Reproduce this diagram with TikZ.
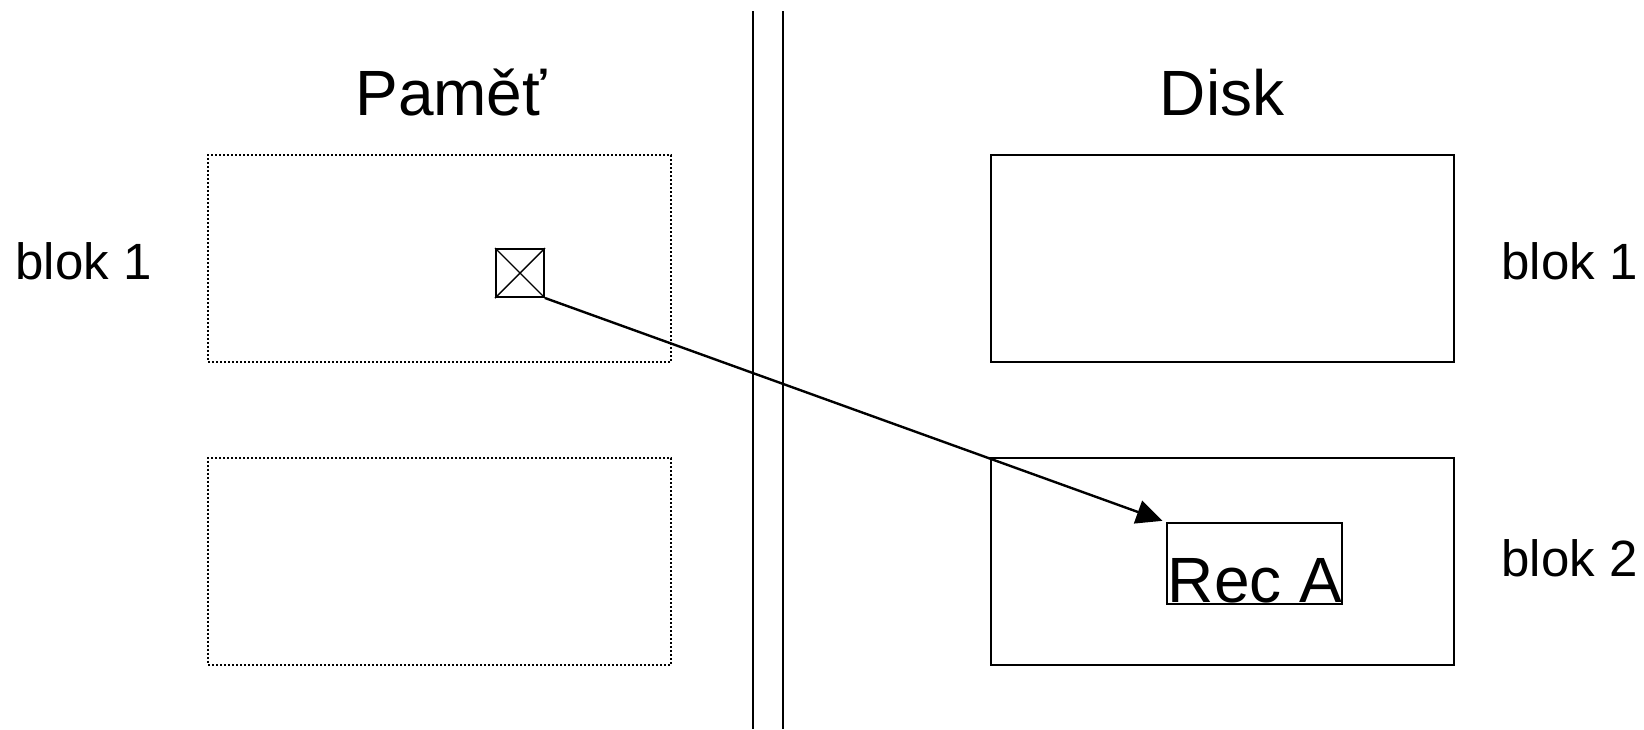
\documentclass[tikz,border=0pt]{standalone}
\usepackage{fontspec}
\setmainfont{Liberation Sans}
\usetikzlibrary{arrows.meta}
\begin{document}
\begin{tikzpicture}[x=0.5pt,y=-0.5pt,
  memblock/.style={draw, line width=1pt, dash pattern=on 1pt off 1pt, minimum width=231.5pt, minimum height=103.5pt, inner sep=0pt},
  diskblock/.style={draw, line width=1pt, minimum width=231.5pt, minimum height=103.5pt, inner sep=0pt},
  title/.style={anchor=base, inner sep=0pt, font=\fontsize{32}{38}\selectfont},
  lbl/.style={inner sep=0pt, font=\fontsize{25.5}{30}\selectfont},
  sep/.style={line width=0.9pt},
  ptr/.style={line width=1.2pt, -{Triangle[length=13pt, width=12pt]}}]
\useasboundingbox (0,0) rectangle (1644,729);
% separator
\coordinate (s1t) at (753,11); \coordinate (s1b) at (753,729);
\coordinate (s2t) at (783,11); \coordinate (s2b) at (783,729);
\draw[sep] (s1t) -- (s1b);
\draw[sep] (s2t) -- (s2b);
% titles
\node[title] (tmem) at (451,115) {Paměť};
\node[title] (tdisk) at (1222,115) {Disk};
% blocks
\node[memblock] (m1) at (439.5,258.5) {};
\node[memblock] (m2) at (439.5,561) {};
\node[diskblock] (d1) at (1222.5,258.5) {};
\node[diskblock] (d2) at (1222.5,561) {};
% labels
\node[lbl, anchor=base west] (lb1) at (15,279) {blok 1};
\node[lbl, anchor=base east] (rb1) at (1638,279) {blok 1};
\node[lbl, anchor=base east] (rb2) at (1638,576) {blok 2};
% pointer box
\node[draw, line width=1pt, minimum size=24pt, inner sep=0pt] (ptrbox) at (520,273) {};
\draw[line width=0.7pt] (ptrbox.north west) -- (ptrbox.south east);
\draw[line width=0.7pt] (ptrbox.north east) -- (ptrbox.south west);
% record
\node[draw, line width=0.8pt, minimum width=87.5pt, minimum height=40.5pt, inner sep=0pt] (rec) at (1254.5,563.5) {};
\node[anchor=base, inner sep=0pt, font=\fontsize{32}{38}\selectfont] (rectxt) at (1255,602) {Rec A};
% arrow
\draw[ptr, shorten >=2pt] (ptrbox.south east) -- (rec.north west);
\end{tikzpicture}
\end{document}
